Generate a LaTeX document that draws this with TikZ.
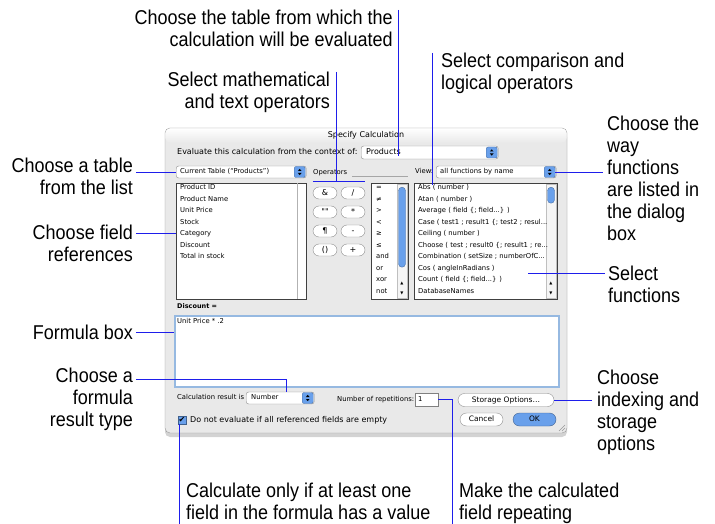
\documentclass[tikz,border=0pt]{standalone}
\usepackage{fontspec}
\setmainfont{Liberation Sans}
\newfontfamily\callfont{Liberation Sans}[FakeStretch=0.9]
\newfontfamily\uifont{DejaVu Sans}
\usetikzlibrary{positioning, shadows}
\definecolor{leadblue}{RGB}{30,30,235}
\definecolor{winbg}{RGB}{233,233,233}
\definecolor{popblue}{RGB}{105,160,235}
\definecolor{fieldblue}{RGB}{150,185,225}
\definecolor{framegray}{RGB}{140,140,140}

\begin{document}
\begin{tikzpicture}[x=1pt, y=-1pt,
    callout/.style={font=\callfont\fontsize{20}{22}\selectfont, inner sep=0pt},
    lead/.style={draw=leadblue, line width=0.9pt},
    ui/.style={font=\uifont\fontsize{6.8}{8}\selectfont, inner sep=0pt, text height=5pt, text depth=1.3pt, anchor=west},
    uibig/.style={ui, font=\uifont\fontsize{8}{9.5}\selectfont, text height=6pt, text depth=1.5pt},
    popup/.style={draw=framegray, fill=white, rounded corners=2.5pt, inner sep=0pt, minimum height=12pt, anchor=west},
    popbtn/.style={draw=popblue!70!black, fill=popblue, rounded corners=2pt, inner sep=0pt,
      minimum width=11pt, minimum height=11pt, anchor=east,
      path picture={
        \fill[black, sharp corners] (path picture bounding box.center) ++(-1.8pt,1pt) -- ++(3.6pt,0pt) -- ++(-1.8pt,2.2pt) -- cycle;
        \fill[black, sharp corners] (path picture bounding box.center) ++(-1.8pt,-1pt) -- ++(3.6pt,0pt) -- ++(-1.8pt,-2.2pt) -- cycle;}},
    listbox/.style={draw=black!75, fill=white, inner sep=0pt, anchor=north west, minimum height=116pt},
    scrolltrack/.style={draw=black!25, fill=black!4, inner sep=0pt, anchor=north east, minimum width=10pt, minimum height=114pt},
    thumb/.style={draw=popblue!70!black, fill=popblue, rounded corners=3.5pt, inner sep=0pt, minimum width=7pt, anchor=north},
    arrowglyph/.style={ui, anchor=center, font=\uifont\fontsize{4}{4}\selectfont, text height=3pt, text depth=0pt},
    opbtn/.style={uibig, anchor=center, draw=framegray, fill=white, rounded corners=6pt, minimum width=24pt, minimum height=12pt},
    macbtn/.style={uibig, anchor=center, font=\uifont\fontsize{7.5}{9}\selectfont, draw=framegray, fill=white, rounded corners=6.5pt, minimum height=13pt}
  ]
  \useasboundingbox (0,0) rectangle (715,524);

  \node[draw=black!40, fill=winbg, rounded corners=5pt, minimum width=402pt, minimum height=305pt, inner sep=0pt,
    drop shadow={shadow xshift=0pt, shadow yshift=-4pt, opacity=0.35}] (win) at (366,280.5) {};
  \shade[top color=white, bottom color=winbg, rounded corners=5pt] ([shift={(0.5pt,-0.5pt)}]win.north west) rectangle ([shift={(-0.5pt,-15pt)}]win.north east);
  \node[uibig, anchor=center] (title) at (366,135) {Specify Calculation};

  \node[uibig] (context) at (177,152.5) {Evaluate this calculation from the context of:};
  \node[popup, minimum width=137pt, minimum height=13pt] (prodpop) at (361,152.5) {};
  \node[popbtn] (prodarr) at ([xshift=-1pt]prodpop.east) {};
  \node[uibig, right=5pt of prodpop.west] (prodtext) {Products};

  \node[popup, minimum width=130pt] (tablepop) at (176,172) {};
  \node[popbtn] (tablearr) at ([xshift=-1pt]tablepop.east) {};
  \node[ui, right=4pt of tablepop.west] (tabletext) {Current Table (“Products”)};

  \node[ui] (opslabel) at (313,173) {Operators};
  \draw[black!35] (352,176) -- (408,176);
  \node[ui] (viewlabel) at (415,172) {View:};
  \node[popup, minimum width=120pt] (viewpop) at (436,172) {};
  \node[popbtn] (viewarr) at ([xshift=-1pt]viewpop.east) {};
  \node[ui, right=4pt of viewpop.west] (viewtext) {all functions by name};

  \node[listbox, minimum width=130pt] (fieldlist) at (176,183) {};
  \draw[black!30] ([xshift=-9pt]fieldlist.north east) -- ([xshift=-9pt]fieldlist.south east);
  \node[ui] (f1) at (180,188) {Product ID};
  \node[ui] (f2) at (180,199.5) {Product Name};
  \node[ui] (f3) at (180,211) {Unit Price};
  \node[ui] (f4) at (180,222.5) {Stock};
  \node[ui] (f5) at (180,234) {Category};
  \node[ui] (f6) at (180,245.5) {Discount};
  \node[ui] (f7) at (180,257) {Total in stock};

  \node[opbtn] (opamp) at (325,193) {\&};
  \node[opbtn] (opslash) at (353,193) {/};
  \node[opbtn] (opquote) at (325,212) {""};
  \node[opbtn] (opstar) at (353,212) {*};
  \node[opbtn] (oppara) at (325,231) {¶};
  \node[opbtn] (opminus) at (353,231) {-};
  \node[opbtn] (opparen) at (325,250) {()};
  \node[opbtn] (opplus) at (353,250) {+};

  \node[listbox, minimum width=37pt] (oplist) at (371,183) {};
  \node[scrolltrack] (optrack) at ([shift={(-1pt,-1pt)}]oplist.north east) {};
  \node[thumb, minimum height=80pt] (opthumb) at (402,187) {};
  \node[arrowglyph] (opup) at (402,283) {▲};
  \node[arrowglyph] (opdown) at (402,293) {▼};
  \node[ui] (o1) at (376,188) {=};
  \node[ui] (o2) at (376,199.5) {≠};
  \node[ui] (o3) at (376,211) {>};
  \node[ui] (o4) at (376,222.5) {<};
  \node[ui] (o5) at (376,234) {≥};
  \node[ui] (o6) at (376,245.5) {≤};
  \node[ui] (o7) at (376,257) {and};
  \node[ui] (o8) at (376,268.5) {or};
  \node[ui] (o9) at (376,280) {xor};
  \node[ui] (o10) at (376,291.5) {not};

  \node[listbox, minimum width=143pt] (funclist) at (414,183) {};
  \node[scrolltrack] (functrack) at ([shift={(-1pt,-1pt)}]funclist.north east) {};
  \node[thumb, minimum height=16pt] (functhumb) at (551,187) {};
  \node[arrowglyph] (funcup) at (551,283) {▲};
  \node[arrowglyph] (funcdown) at (551,293) {▼};
  \node[ui] (g1) at (418,188) {Abs ( number )};
  \node[ui] (g2) at (418,199.5) {Atan ( number )};
  \node[ui] (g3) at (418,211) {Average ( field \{; field...\} )};
  \node[ui] (g4) at (418,222.5) {Case ( test1 ; result1 \{; test2 ; resul...};
  \node[ui] (g5) at (418,234) {Ceiling ( number )};
  \node[ui] (g6) at (418,245.5) {Choose ( test ; result0 \{; result1 ; re...};
  \node[ui] (g7) at (418,257) {Combination ( setSize ; numberOfC...};
  \node[ui] (g8) at (418,268.5) {Cos ( angleInRadians )};
  \node[ui] (g9) at (418,280) {Count ( field \{; field...\} )};
  \node[ui] (g10) at (418,291.5) {DatabaseNames};

  \node[ui, font=\uifont\bfseries\fontsize{6.5}{8}\selectfont] (discount) at (177,307) {Discount =};
  \node[draw=fieldblue, line width=1.5pt, fill=white, inner sep=0pt, anchor=north west,
    minimum width=384pt, minimum height=71pt] (formula) at (174,315) {};
  \node[ui] (formtext) at (177,322) {Unit Price * .2};

  \node[ui] (resultlbl) at (177,398) {Calculation result is};
  \node[popup, minimum width=68pt] (numpop) at (246,398) {};
  \node[popbtn] (numarr) at ([xshift=-1pt]numpop.east) {};
  \node[ui, right=5pt of numpop.west] (numtext) {Number};

  \node[ui] (replbl) at (337,400) {Number of repetitions:};
  \node[draw=black!50, fill=white, inner sep=0pt, minimum width=23pt, minimum height=13pt, anchor=west] (repbox) at (415,399.5) {};
  \node[ui, right=3pt of repbox.west] (reptext) {1};
  \node[macbtn, minimum width=96pt] (storebtn) at (506,400) {Storage Options…};

  \node[draw=popblue!60!black, fill=popblue, inner sep=0pt, minimum size=8pt, font=\uifont\fontsize{8}{8}\selectfont] (chk) at (182,420) {✔};
  \node[uibig] (chklbl) at (190,420) {Do not evaluate if all referenced fields are empty};
  \node[macbtn, minimum width=43pt] (cancelbtn) at (481.5,419.5) {Cancel};
  \node[macbtn, minimum width=43pt, fill=popblue, draw=popblue!60!black] (okbtn) at (534.5,419.5) {OK};
  \draw[black!40] (565,425) -- (559,431) (565,428) -- (562,431);

  \node[callout, align=right, anchor=north east] (tablefrom) at (393,10) {Choose the table from which the\\calculation will be evaluated};
  \node[callout, align=right, anchor=north east] (selmath) at (330,72) {Select mathematical\\and text operators};
  \node[callout, align=left, anchor=north west] (selcomp) at (441,53) {Select comparison and\\logical operators};
  \node[callout, align=left, anchor=north west] (listway) at (607,116) {Choose the\\way\\functions\\are listed in\\the dialog\\box};
  \node[callout, align=left, anchor=north west] (selfunc) at (608,266) {Select\\functions};
  \node[callout, align=left, anchor=north west] (storeopt) at (597,370) {Choose\\indexing and\\storage\\options};
  \node[callout, align=left, anchor=north west] (calcif) at (186,483) {Calculate only if at least one\\field in the formula has a value};
  \node[callout, align=left, anchor=north west] (repeating) at (459,483) {Make the calculated\\field repeating};
  \node[callout, align=right, anchor=north east] (tablelist) at (133,158) {Choose a table\\from the list};
  \node[callout, align=right, anchor=north east] (fieldref) at (133,225) {Choose field\\references};
  \node[callout, anchor=north east] (formbox) at (133,325) {Formula box};
  \node[callout, align=right, anchor=north east] (restype) at (133,368) {Choose a\\formula\\result type};

  \coordinate (prodtip) at (398,156);
  \coordinate (brk) at (336,182);
  \coordinate (abstip) at (432,185);
  \coordinate (funcpt) at (528,273);
  \coordinate (fieldpt) at (176,233);
  \coordinate (resknee) at (286,379);
  \coordinate (repfoot) at (452,524);
  \coordinate (chkfoot) at (179,524);

  \draw[lead] (prodtip |- tablefrom.north) -- (prodtip);
  \draw[lead] (brk |- selmath.north) -- (brk);
  \draw[lead] ([yshift=5pt]opamp.north west) -- ([yshift=5pt]opslash.north east);
  \draw[lead] (abstip |- selcomp.north) -- (abstip);
  \draw[lead, shorten >=4pt] (viewarr.east) -- (viewarr.east -| listway.west);
  \draw[lead, shorten >=3pt] (funcpt) -- (funcpt -| selfunc.west);
  \draw[lead, shorten >=5pt] (storebtn.east) -- (storebtn.east -| storeopt.west);
  \draw[lead] (repbox.east) -| (repfoot);
  \draw[lead] (chkfoot |- chk.south) -- (chkfoot);
  \draw[lead, shorten <=3pt] (tablelist.north east |- tablepop.west) -- (tablepop.west);
  \draw[lead, shorten <=3pt] (fieldref.north east |- fieldpt) -- (fieldpt);
  \draw[lead, shorten <=3pt] (formbox.east) -- (formbox.east -| formula.west);
  \draw[lead, shorten <=3pt] (restype.north east |- resknee) -- (resknee) -- (resknee |- numpop.north);
\end{tikzpicture}
\end{document}
